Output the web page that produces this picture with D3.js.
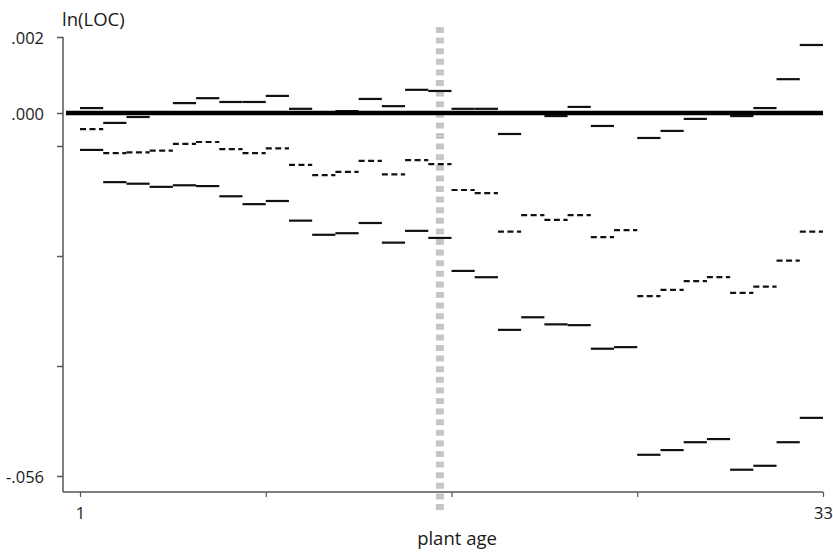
<!DOCTYPE html>
<html>
<head>
    <script src="https://d3js.org/d3.v7.min.js"></script>
    <style>
        body { margin: 0; background: white; }
        text { font-family: "Open Sans", sans-serif; fill: #1a1a1a; }
    </style>
</head>
<body>
<div id="chart"></div>
<script>
    // plant age steps 1..32 (each step spans age k to k+1)
    const ages = d3.range(1, 33);

    // solid series close to zero
    const seriesTop = [0.00013, -0.0042, -0.0017, -0.0001, 0.00026, 0.00039, 0.00029, 0.00029,
        0.00045, 0.00011, -0.0001, 0.00005, 0.00037, 0.00018, 0.00061, 0.00058,
        0.00011, 0.00011, -0.0089, -0.0001, -0.0013, 0.00016, -0.0055, -0.0001,
        -0.0106, -0.0076, -0.0025, -0.0001, -0.0013, 0.00013, 0.00089, 0.00179];

    // dashed series
    const seriesDashed = [-0.0068, -0.0149, -0.0148, -0.0146, -0.0131, -0.0123, -0.0144, -0.0149,
        -0.0143, -0.0164, -0.0177, -0.0173, -0.0159, -0.0176, -0.0158, -0.0163,
        -0.0196, -0.0200, -0.0249, -0.0228, -0.0234, -0.0228, -0.0256, -0.0247,
        -0.0331, -0.0323, -0.0312, -0.0307, -0.0327, -0.0319, -0.0286, -0.0249];

    // lower solid series
    const seriesLow = [-0.0145, -0.0186, -0.0188, -0.0192, -0.0190, -0.0191, -0.0204, -0.0214,
        -0.0210, -0.0235, -0.0253, -0.0251, -0.0238, -0.0263, -0.0248, -0.0257,
        -0.0299, -0.0307, -0.0374, -0.0358, -0.0367, -0.0368, -0.0398, -0.0396,
        -0.0533, -0.0527, -0.0517, -0.0513, -0.0552, -0.0547, -0.0517, -0.0486];

    const yTicks = [0.002, 0, -0.014, -0.028, -0.042, -0.056];
    const yTickLabels = [".002", ".000", "", "", "", "-.056"];
    const xTicks = [1, 9, 17, 25, 33];
    const xTickLabels = ["1", "", "", "", "33"];
    const breakAge = 16.5;

    const width = 833, height = 553;
    const svg = d3.select("#chart").append("svg")
        .attr("width", width)
        .attr("height", height);

    const x = d3.scaleLinear().domain([1, 33]).range([80, 823]);
    // piecewise scale: the band around zero is stretched
    const y = d3.scaleLinear()
        .domain(yTicks)
        .range([37, 113, 146, 256, 366, 476]);

    const axisX = 63, axisY = 492;

    // axis lines
    svg.append("line")
        .attr("x1", axisX).attr("x2", axisX)
        .attr("y1", y(0.002)).attr("y2", axisY)
        .attr("stroke", "#555").attr("stroke-width", 1.5);
    svg.append("line")
        .attr("x1", axisX).attr("x2", x(33))
        .attr("y1", axisY).attr("y2", axisY)
        .attr("stroke", "#555").attr("stroke-width", 1.5);

    const gy = svg.append("g")
        .attr("transform", "translate(" + axisX + ",0)")
        .call(d3.axisLeft(y).tickValues(yTicks).tickSize(6).tickPadding(13)
            .tickFormat((d, i) => yTickLabels[i]));
    gy.select(".domain").remove();
    gy.selectAll(".tick line").attr("stroke", "#555").attr("stroke-width", 1.5);
    gy.selectAll(".tick text").attr("font-size", 16.5).attr("dy", "0.4em")
        .style("font-family", "'Open Sans', sans-serif").attr("fill", "#1a1a1a");

    const gx = svg.append("g")
        .attr("transform", "translate(0," + axisY + ")")
        .call(d3.axisBottom(x).tickValues(xTicks).tickSize(5).tickPadding(10)
            .tickFormat((d, i) => xTickLabels[i]));
    gx.select(".domain").remove();
    gx.selectAll(".tick line").attr("stroke", "#555").attr("stroke-width", 1.2);
    gx.selectAll(".tick text").attr("font-size", 16.5)
        .style("font-family", "'Open Sans', sans-serif").attr("fill", "#1a1a1a");

    // axis titles
    svg.append("text")
        .attr("x", 62).attr("y", 26)
        .attr("font-size", 18.5)
        .text("ln(LOC)");
    svg.append("text")
        .attr("x", 457).attr("y", 545)
        .attr("text-anchor", "middle")
        .attr("font-size", 18.5)
        .text("plant age");

    // grey dashed marker line
    svg.append("line")
        .attr("x1", x(breakAge)).attr("x2", x(breakAge))
        .attr("y1", 27).attr("y2", 512)
        .attr("stroke", "#c6c6c6")
        .attr("stroke-width", 8)
        .attr("stroke-dasharray", "6,4.6");

    function drawSteps(values, dash, cls) {
        svg.selectAll("line." + cls)
            .data(values)
            .enter()
            .append("line")
            .attr("class", cls)
            .attr("x1", (d, i) => x(ages[i]))
            .attr("x2", (d, i) => x(ages[i] + 1))
            .attr("y1", d => y(d))
            .attr("y2", d => y(d))
            .attr("stroke", "#111")
            .attr("stroke-width", 2.2)
            .attr("stroke-dasharray", dash);
    }

    drawSteps(seriesDashed, "6,3.5", "dashed");
    drawSteps(seriesLow, null, "low");
    drawSteps(seriesTop, null, "top");

    // zero reference line
    svg.append("line")
        .attr("x1", axisX + 3).attr("x2", x(33))
        .attr("y1", y(0)).attr("y2", y(0))
        .attr("stroke", "#000")
        .attr("stroke-width", 4.5);
</script>
</body>
</html>
